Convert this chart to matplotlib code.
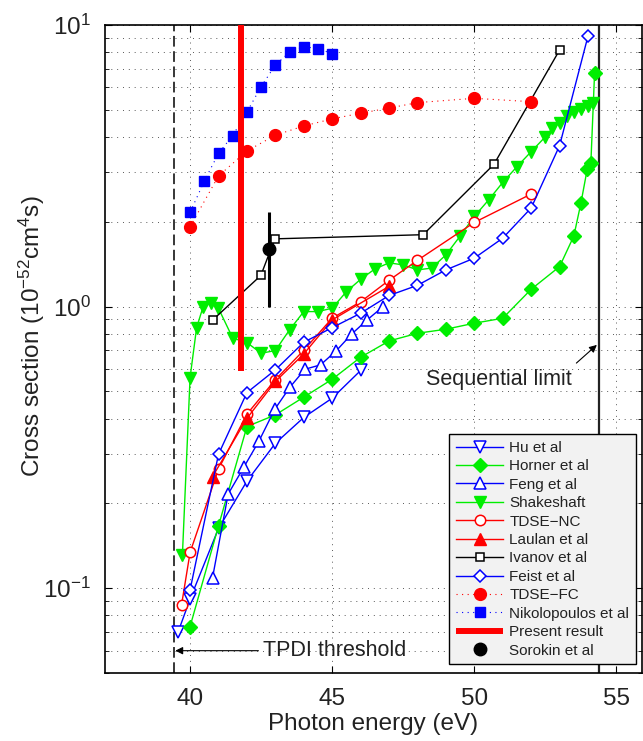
import matplotlib
matplotlib.use('Agg')
import matplotlib.pyplot as plt

plt.rcParams['font.family'] = ['Liberation Sans', 'DejaVu Sans']
plt.rcParams['mathtext.fontset'] = 'custom'
plt.rcParams['mathtext.rm'] = 'Liberation Sans'
plt.rcParams['mathtext.it'] = 'Liberation Sans:italic'
plt.rcParams['mathtext.bf'] = 'Liberation Sans:bold'

# ---------------- data (photon energy in eV, cross section in 1e-52 cm^4 s) -------------
hu_E = [39.58, 40.0, 41.0, 42.0, 43.0, 44.0, 45.0, 46.0]
hu_cs = [0.070, 0.0915, 0.163, 0.240, 0.327, 0.404, 0.473, 0.593]

horner_E = [40.0, 41.0, 42.0, 43.0, 44.0, 45.0, 46.0, 47.0, 48.0, 49.0, 50.0, 51.0,
            52.0, 53.0, 53.5, 53.75, 53.97, 54.1, 54.23]
horner_cs = [0.0731, 0.1665, 0.375, 0.4125, 0.477, 0.552, 0.661, 0.755, 0.804, 0.831,
             0.873, 0.909, 1.152, 1.387, 1.78, 2.33, 3.07, 3.24, 6.74]

feng_E = [40.79, 41.34, 41.9, 42.43, 42.98, 43.51, 44.04, 44.59, 45.15, 45.68, 46.23, 46.79]
feng_cs = [0.109, 0.216, 0.270, 0.334, 0.432, 0.517, 0.599, 0.621, 0.698, 0.798, 0.897, 1.0]

shake_E = [39.73, 40.0, 40.23, 40.46, 40.73, 40.99, 41.5, 42.0, 42.5, 43.0, 43.5, 44.0,
           44.5, 45.0, 45.5, 46.0, 46.5, 47.0, 47.5, 48.0, 48.5, 49.0, 49.5, 50.0, 50.5,
           51.0, 51.5, 52.0, 52.5, 52.75, 53.0, 53.25, 53.5, 53.75, 54.0, 54.17]
shake_cs = [0.131, 0.56, 0.842, 1.0, 1.03, 0.99, 0.773, 0.745, 0.683, 0.698, 0.827, 0.96,
            0.96, 0.987, 1.13, 1.25, 1.36, 1.43, 1.406, 1.35, 1.37, 1.526, 1.78, 2.09, 2.39,
            2.76, 3.14, 3.55, 4.01, 4.30, 4.50, 4.75, 4.90, 5.05, 5.15, 5.30]

nc_E = [39.7, 40.0, 41.0, 42.0, 43.0, 44.0, 45.0, 46.0, 47.0, 48.0, 50.0, 52.0]
nc_cs = [0.0873, 0.134, 0.265, 0.415, 0.55, 0.70, 0.91, 1.04, 1.24, 1.46, 1.99, 2.51]

laulan_E = [40.79, 42.0, 43.0, 44.0, 45.0, 47.0]
laulan_cs = [0.249, 0.401, 0.542, 0.679, 0.897, 1.18]

ivanov_E = [40.79, 42.49, 42.98, 48.2, 50.69, 53.0]
ivanov_cs = [0.895, 1.29, 1.74, 1.80, 3.20, 8.15]

feist_E = [40.0, 41.0, 42.0, 43.0, 44.0, 45.0, 46.0, 47.0, 48.0, 49.0, 50.0, 51.0, 52.0, 53.0, 54.0]
feist_cs = [0.0987, 0.299, 0.495, 0.596, 0.747, 0.842, 0.947, 1.095, 1.19, 1.35, 1.486,
            1.75, 2.24, 3.73, 9.14]

fc_E = [40.0, 41.0, 42.0, 43.0, 44.0, 45.0, 46.0, 47.0, 48.0, 50.0, 52.0]
fc_cs = [1.92, 2.91, 3.57, 4.06, 4.38, 4.64, 4.86, 5.07, 5.30, 5.49, 5.34]

niko_E = [40.0, 40.5, 41.0, 41.5, 42.0, 42.5, 43.0, 43.5, 44.0, 44.5, 45.0]
niko_cs = [2.16, 2.79, 3.50, 4.05, 4.91, 6.04, 7.21, 8.0, 8.38, 8.24, 7.91]

present_E = 41.8
present_range = [0.59, 10.0]

sorokin_E = [42.78]
sorokin_cs = [1.60]
sorokin_err = [[0.60], [0.57]]

tpdi_threshold = 39.43
sequential_limit = 54.4

x_ticks = [40, 45, 50, 55]

# ---------------- figure -------------
fig = plt.figure(figsize=(6.43, 7.41), dpi=100)
ax = fig.add_axes([0.1630, 0.0918, 0.8355, 0.8745])
ax.set_yscale('log')
ax.set_xlim(37, 55.9)
ax.set_ylim(0.05, 10)

lw = 1.0
ax.plot(hu_E, hu_cs, color='#0000ff', lw=lw, marker='v', ms=8, mfc='white',
        mec='#0000ff', mew=1.1, label='Hu et al', zorder=3)
ax.plot(horner_E, horner_cs, color='#00ee00', lw=lw, marker='D', ms=7, mfc='#00ee00',
        mec='#00ee00', label='Horner et al', zorder=3)
ax.plot(feng_E, feng_cs, color='#0000ff', lw=lw, marker='^', ms=8, mfc='white',
        mec='#0000ff', mew=1.1, label='Feng et al', zorder=3)
ax.plot(shake_E, shake_cs, color='#00ee00', lw=lw, marker='v', ms=8.5, mfc='#00ee00',
        mec='#00ee00', label='Shakeshaft', zorder=3)
ax.plot(nc_E, nc_cs, color='#ff0000', lw=lw, marker='o', ms=7.5, mfc='white',
        mec='#ff0000', mew=1.1, label='TDSE\u2212NC', zorder=3)
ax.plot(laulan_E, laulan_cs, color='#ff0000', lw=lw, marker='^', ms=8.5, mfc='#ff0000',
        mec='#ff0000', label='Laulan et al', zorder=3)
ax.plot(ivanov_E, ivanov_cs, color='black', lw=lw, marker='s', ms=6, mfc='white',
        mec='black', mew=1.1, label='Ivanov et al', zorder=3)
ax.plot(feist_E, feist_cs, color='#0000ff', lw=lw, marker='D', ms=6.5, mfc='white',
        mec='#0000ff', mew=1.1, label='Feist et al', zorder=3)
ax.plot(fc_E, fc_cs, color='#ff0000', lw=0.8, ls=(0, (1, 4)), marker='o', ms=8.5,
        mfc='#ff0000', mec='#ff0000', label='TDSE\u2212FC', zorder=3)
ax.plot(niko_E, niko_cs, color='#0000ff', lw=0.8, ls=(0, (1, 4)), marker='s', ms=7,
        mfc='#0000ff', mec='#0000ff', label='Nikolopoulos et al', zorder=3)
ax.plot([present_E, present_E], present_range, color='#ff0000', lw=4.3,
        label='Present result', zorder=4, solid_capstyle='butt')
ax.errorbar(sorokin_E, sorokin_cs, yerr=sorokin_err, fmt='none', ecolor='black',
            elinewidth=2.2, capsize=0, zorder=5)
ax.plot(sorokin_E, sorokin_cs, ls='none', marker='o', ms=9, color='black',
        label='Sorokin et al', zorder=6)

# threshold lines
ax.axvline(tpdi_threshold, color='black', lw=1.1, ls=(0, (7, 3)), zorder=2)
ax.axvline(sequential_limit, color='#222222', lw=1.6, zorder=2)

# annotations
ax.annotate('TPDI threshold', xy=(tpdi_threshold + 0.05, 0.06), xytext=(42.55, 0.06),
            fontsize=15.5, va='center', ha='left', color='#222222',
            arrowprops=dict(arrowstyle='-|>', color='black', lw=0.8, mutation_scale=11,
                            shrinkA=1, shrinkB=0))
ax.text(50.86, 0.549, 'Sequential limit', fontsize=15.5, ha='center', va='center',
        color='#222222')
ax.annotate('', xy=(54.31, 0.731), xytext=(53.59, 0.63),
            arrowprops=dict(arrowstyle='-|>', color='black', lw=0.8, mutation_scale=11,
                            shrinkA=0, shrinkB=0))

# axes styling
ax.set_xticks(x_ticks)
ax.set_xticklabels([str(t) for t in x_ticks])
ax.xaxis.set_minor_locator(matplotlib.ticker.NullLocator())
ax.tick_params(axis='both', which='both', direction='in', top=True, right=True,
               labelsize=17.5, colors='black', labelcolor='#222222')
ax.tick_params(axis='both', which='major', length=5, width=0.8)
ax.tick_params(axis='y', which='minor', length=3, width=0.6)
ax.tick_params(axis='x', which='major', pad=11)
ax.tick_params(axis='y', which='major', pad=10)
for s in ax.spines.values():
    s.set_linewidth(1.2)

ax.grid(True, which='major', axis='x', color='0.35', lw=0.7, ls=(0, (1, 5)))
ax.grid(True, which='both', axis='y', color='0.35', lw=0.7, ls=(0, (1, 5)))
ax.set_axisbelow(True)

ax.set_xlabel('Photon energy (eV)', fontsize=17.5, color='#222222')
ax.set_ylabel('Cross section (10$^{\u221252}$cm$^{4}$s)', fontsize=17.5, color='#222222')
ax.xaxis.set_label_coords(0.5, -0.062)
ax.yaxis.set_label_coords(-0.108, 0.52)

leg = ax.legend(loc='upper left', bbox_to_anchor=(0.6407, 0.3688), borderaxespad=0,
                fontsize=11, handlelength=3.1, handletextpad=0.4, labelspacing=0.29,
                borderpad=0.45, fancybox=False, framealpha=1, edgecolor='black',
                facecolor='#f2f2f2', numpoints=1)
leg.get_frame().set_linewidth(1.0)
for t in leg.get_texts():
    t.set_color('#222222')

fig.savefig('out.png', dpi=100)
